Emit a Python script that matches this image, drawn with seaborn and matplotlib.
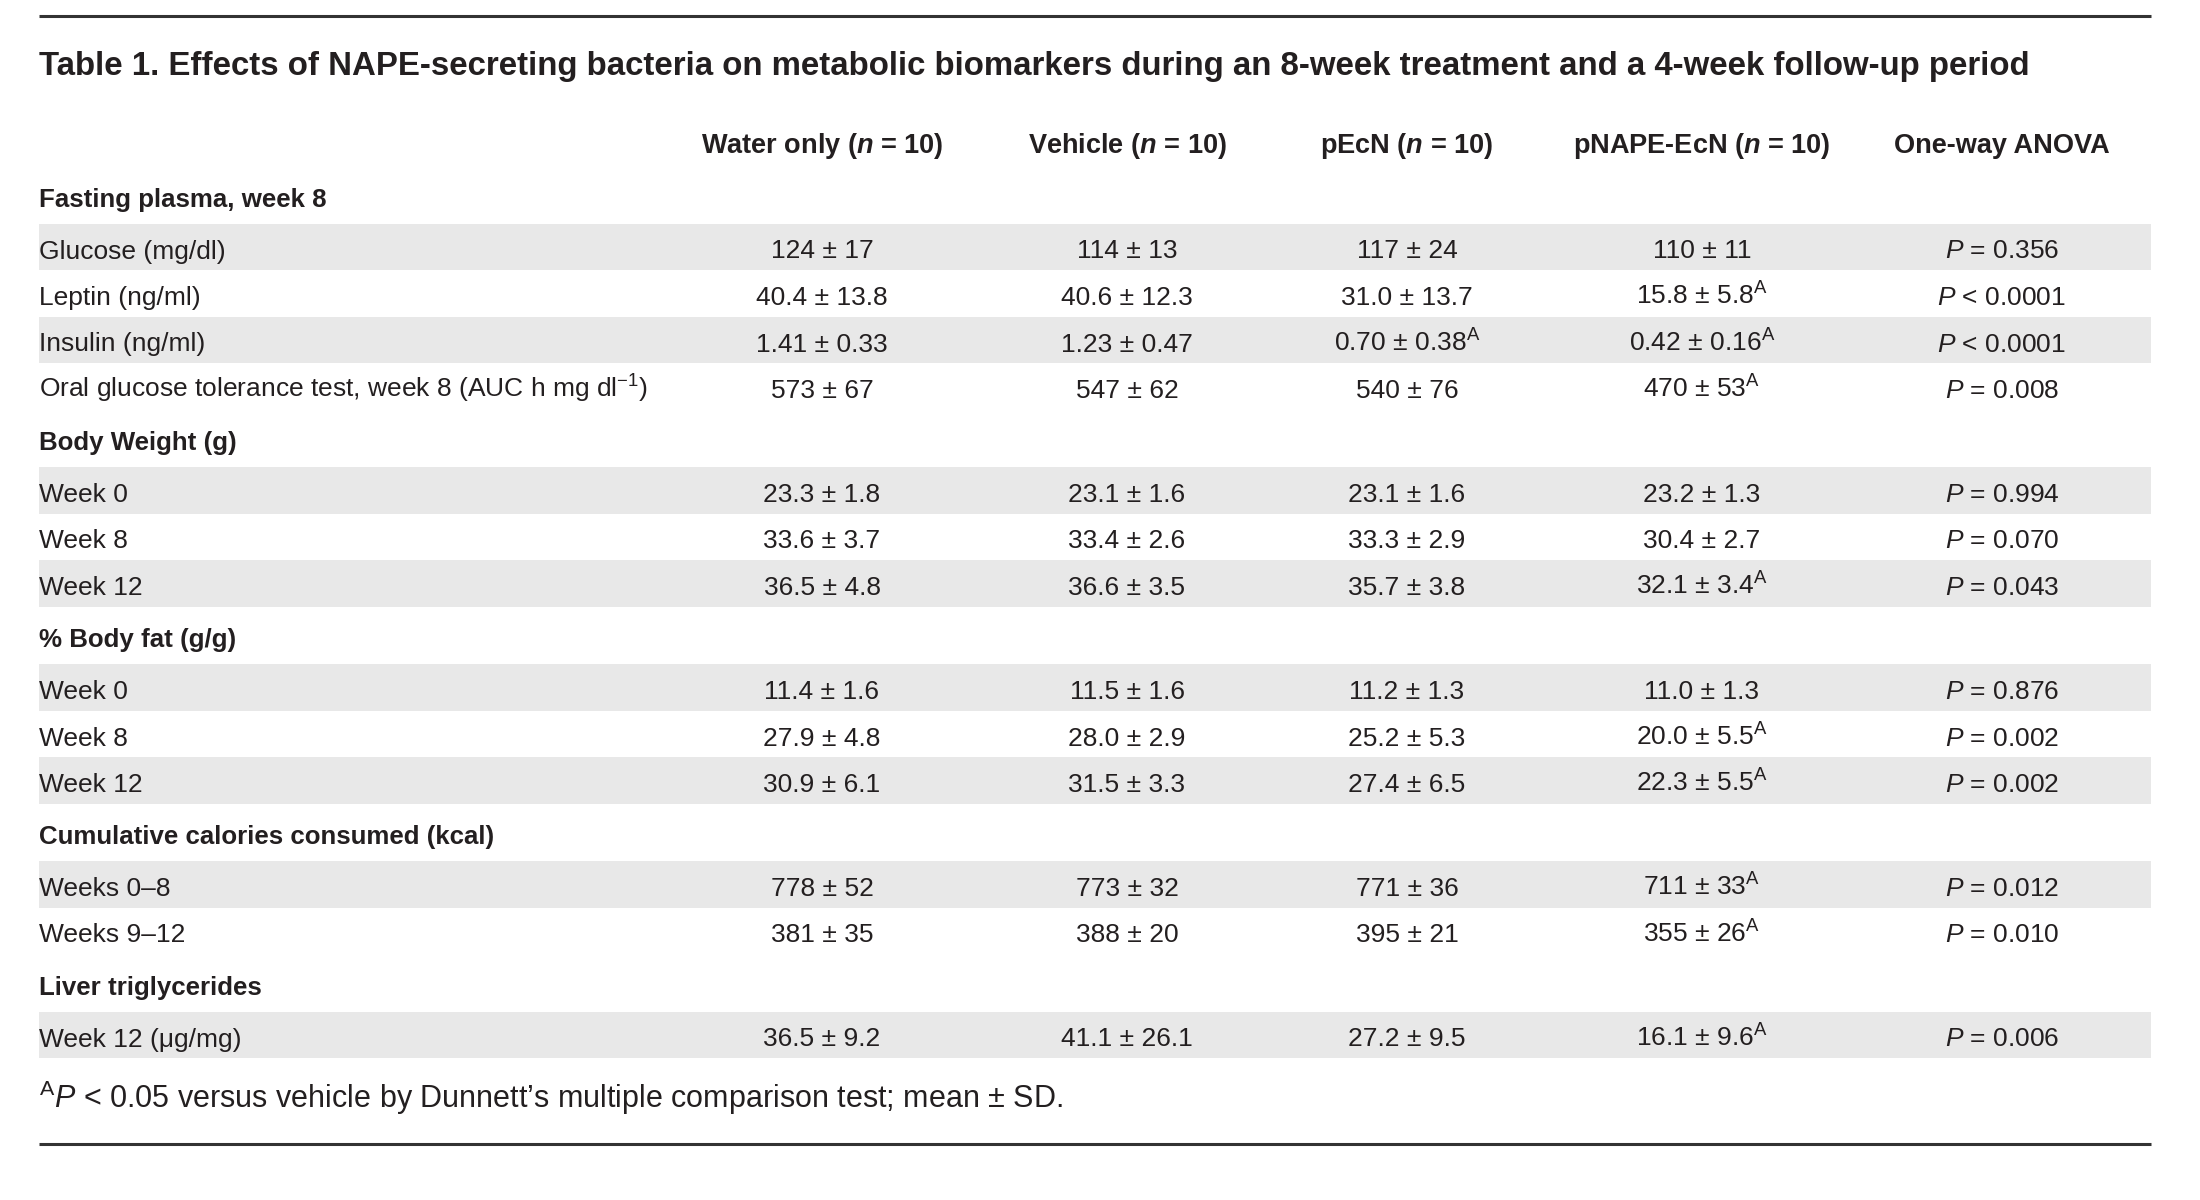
import matplotlib
matplotlib.use("Agg")
import matplotlib.pyplot as plt
import seaborn as sns
import pandas as pd

# Table 1 values
title = ("Table 1. Effects of NAPE-secreting bacteria on metabolic biomarkers "
         "during an 8-week treatment and a 4-week follow-up period")
columns = ["Water only", "Vehicle", "pEcN", "pNAPE-EcN"]
n_per_group = [10, 10, 10, 10]
anova_header = "One-way ANOVA"

groups = ["Fasting plasma, week 8", "Body Weight (g)", "% Body fat (g/g)",
          "Cumulative calories consumed (kcal)", "Liver triglycerides"]
group_rows = [
    ["Glucose (mg/dl)", "Leptin (ng/ml)", "Insulin (ng/ml)",
     "Oral glucose tolerance test, week 8 (AUC h mg dl$^{\\mathrm{-1}}$)"],
    ["Week 0", "Week 8", "Week 12"],
    ["Week 0", "Week 8", "Week 12"],
    ["Weeks 0–8", "Weeks 9–12"],
    ["Week 12 (μg/mg)"],
]

water = ["124 ± 17", "40.4 ± 13.8", "1.41 ± 0.33", "573 ± 67",
         "23.3 ± 1.8", "33.6 ± 3.7", "36.5 ± 4.8",
         "11.4 ± 1.6", "27.9 ± 4.8", "30.9 ± 6.1",
         "778 ± 52", "381 ± 35", "36.5 ± 9.2"]
vehicle = ["114 ± 13", "40.6 ± 12.3", "1.23 ± 0.47", "547 ± 62",
           "23.1 ± 1.6", "33.4 ± 2.6", "36.6 ± 3.5",
           "11.5 ± 1.6", "28.0 ± 2.9", "31.5 ± 3.3",
           "773 ± 32", "388 ± 20", "41.1 ± 26.1"]
pecn = ["117 ± 24", "31.0 ± 13.7", "0.70 ± 0.38", "540 ± 76",
        "23.1 ± 1.6", "33.3 ± 2.9", "35.7 ± 3.8",
        "11.2 ± 1.3", "25.2 ± 5.3", "27.4 ± 6.5",
        "771 ± 36", "395 ± 21", "27.2 ± 9.5"]
pnape = ["110 ± 11", "15.8 ± 5.8", "0.42 ± 0.16", "470 ± 53",
         "23.2 ± 1.3", "30.4 ± 2.7", "32.1 ± 3.4",
         "11.0 ± 1.3", "20.0 ± 5.5", "22.3 ± 5.5",
         "711 ± 33", "355 ± 26", "16.1 ± 9.6"]
pecn_sig = [0, 0, 1, 0, 0, 0, 0, 0, 0, 0, 0, 0, 0]
pnape_sig = [0, 1, 1, 1, 0, 0, 1, 0, 1, 1, 1, 1, 1]
anova_sign = ["=", "<", "<", "=", "=", "=", "=", "=", "=", "=", "=", "=", "="]
anova_p = ["0.356", "0.0001", "0.0001", "0.008", "0.994", "0.070", "0.043",
           "0.876", "0.002", "0.002", "0.012", "0.010", "0.006"]

footnote = ("$^{\\mathrm{A}}\\mathit{P}$ < 0.05 versus vehicle by Dunnett’s "
            "multiple comparison test; mean ± SD.")

# fonts
sns.set_theme(style="white")
FONT = "Liberation Sans"
plt.rcParams["font.family"] = [FONT, "DejaVu Sans"]
plt.rcParams["mathtext.fontset"] = "custom"
plt.rcParams["mathtext.rm"] = FONT
plt.rcParams["mathtext.it"] = FONT + ":italic"
plt.rcParams["mathtext.bf"] = FONT + ":bold"
plt.rcParams["mathtext.sf"] = FONT + ":italic:bold"   # used for bold italic n

sup = "$^{\\mathrm{A}}$"
df = pd.DataFrame({
    "water": water,
    "vehicle": vehicle,
    "pecn": [v + (sup if s else "") for v, s in zip(pecn, pecn_sig)],
    "pnape": [v + (sup if s else "") for v, s in zip(pnape, pnape_sig)],
    "anova": [f"$\\mathit{{P}}$ {s} {p}" for s, p in zip(anova_sign, anova_p)],
})

TXT = "#231f20"
BODY = 19
col_x = [822, 1127, 1407, 1702, 2002]
left, right = 39, 2151
base_off = 10.5

fig = plt.figure(figsize=(22, 12), dpi=100)
ax = fig.add_axes([0, 0, 1, 1])
ax.set_xlim(0, 2200)
ax.set_ylim(1200, 0)
ax.axis("off")

# rules
ax.hlines([15.5, 1144], left, right, color="#333333", lw=2.2)

ax.text(left, 75, title, fontsize=23.8, fontweight="bold", color=TXT,
        ha="left", va="baseline")

heads = [f"{c} ($\\mathsf{{n}}$ = {n})" for c, n in zip(columns, n_per_group)]
heads.append(anova_header)
for x, h in zip(col_x, heads):
    ax.text(x, 153, h, fontsize=19.5, fontweight="bold", color=TXT,
            ha="center", va="baseline")

# body rows
y = 196
i = 0
for g, rows in zip(groups, group_rows):
    ax.text(left, y + base_off, g, fontsize=18.6, fontweight="bold", color=TXT,
            ha="left", va="baseline")
    y += 52
    for j, lab in enumerate(rows):
        if j % 2 == 0:
            ax.barh(y - 1, right - left, left=left, height=46.5,
                    color="#e8e8e8", linewidth=0, zorder=0)
        ax.text(left, y + base_off, lab, fontsize=BODY, color=TXT,
                ha="left", va="baseline")
        for x, val in zip(col_x, df.iloc[i]):
            ax.text(x, y + base_off, val, fontsize=BODY, color=TXT,
                    ha="center", va="baseline")
        i += 1
        y += 46.5
    y += 52 - 46.5

ax.text(left, 1108, footnote, fontsize=22, color=TXT,
        ha="left", va="baseline")

fig.savefig("out.png", dpi=100, facecolor="white")
